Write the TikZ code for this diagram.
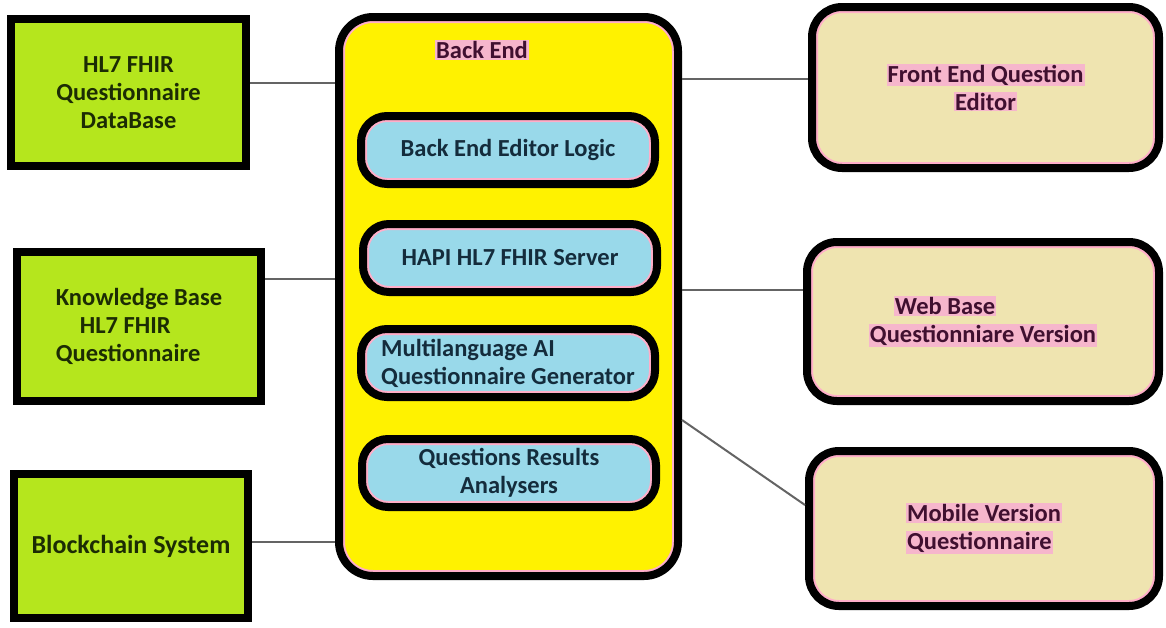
\documentclass[tikz,border=0pt]{standalone}
\usepackage{fontspec}
\setmainfont{Carlito}

\definecolor{limette}{RGB}{181,230,29}
\definecolor{gelb}{RGB}{255,242,0}
\definecolor{hellblau}{RGB}{153,217,234}
\definecolor{sand}{RGB}{239,228,176}
\definecolor{rosa}{RGB}{255,174,201}
\definecolor{linie}{RGB}{100,100,100}
\definecolor{gruentext}{RGB}{28,44,4}
\definecolor{blautext}{RGB}{20,44,60}
\definecolor{lilatext}{RGB}{64,16,48}
\definecolor{halo}{RGB}{246,182,204}

\newcommand{\halo}[1]{{\setlength{\fboxsep}{1pt}\colorbox{halo}{#1}}}

\begin{document}
\begin{tikzpicture} [x = 1pt, y = -1pt,
        schrift/.style = {font = \bfseries\fontsize{24.5}{28}\selectfont},
        rosarand/.style = {path picture = {\draw[rosa, line width = 12pt, rounded corners = #1]
            (path picture bounding box.south west) rectangle (path picture bounding box.north east);}},
        kasten/.style = {schrift, draw = black, line width = 8pt, fill = limette, text = gruentext, align = center},
        kapsel/.style = {schrift, draw = black, line width = 8pt, fill = hellblau, text = blautext, align = center,
            rounded corners = 26pt, rosarand = 26pt, minimum width = 294pt, minimum height = 68pt},
        ziel/.style = {schrift, draw = black, line width = 8pt, fill = sand, text = lilatext, align = left,
            rounded corners = 30pt, rosarand = 30pt},
        verbindung/.style = {linie, line width = 2pt}]
            \useasboundingbox (0, 0) rectangle (1166, 627);

            % Linke Seite: Datenquellen
            \node[kasten, minimum width = 235pt, minimum height = 147pt] (db) at (128.5, 92.5)
                {HL7 FHIR\\Questionnaire\\DataBase};
            \node[kasten, align = left, minimum width = 244pt, minimum height = 149pt] (kb) at (139, 326.5)
                {Knowledge Base\\\hspace*{24pt}HL7 FHIR\\Questionnaire};
            \node[kasten, minimum width = 234pt, minimum height = 144pt,
                font = \bfseries\fontsize{26}{28}\selectfont] (bc) at (131, 546)
                {Blockchain System};

            % Back End mit Komponenten
            \node[draw = black, line width = 8pt, fill = gelb, rounded corners = 34pt, rosarand = 34pt,
                minimum width = 339pt, minimum height = 559pt] (backend) at (508.5, 296.5) {};
            \node[schrift, text = lilatext] (betitel) at (482, 50) {\halo{Back End}};
            \node[kapsel] (logik) at (508, 150) {Back End Editor Logic};
            \node[kapsel] (hapi) at (510, 258) {HAPI HL7 FHIR Server};
            \node[kapsel, align = left] (ki) at (508, 363) {Multilanguage AI\\Questionnaire Generator};
            \node[kapsel] (analyse) at (509, 473) {Questions Results\\Analysers};

            % Rechte Seite: Oberflaechen
            \node[ziel, align = center, minimum width = 347pt, minimum height = 161pt] (editor) at (985.5, 87.5)
                {\halo{Front End Question}\\\halo{Editor}};
            \node[ziel, minimum width = 352pt, minimum height = 159pt] (web) at (983, 321.5)
                {\hspace*{25pt}\halo{Web Base}\\\halo{Questionniare Version}};
            \node[ziel, minimum width = 350pt, minimum height = 155pt] (mobil) at (984, 528.5)
                {\halo{Mobile Version}\\\halo{Questionnaire}};

            % Verbindungen
            \draw[verbindung] ([yshift = 9.5pt]db.east) -- ([yshift = 9.5pt]db.east -| backend.west);
            \draw[verbindung] ([yshift = 47.5pt]kb.east) -- ([yshift = 47.5pt]kb.east -| backend.west);
            \draw[verbindung] ([yshift = 4pt]bc.east) -- ([yshift = 4pt]bc.east -| backend.west);
            \draw[verbindung] ([yshift = 8.5pt]editor.west -| backend.east) -- ([yshift = 8.5pt]editor.west);
            \draw[verbindung] ([yshift = 31.5pt]web.west -| backend.east) -- ([yshift = 31.5pt]web.west);
            \draw[verbindung] ([yshift = -123.5pt]backend.east) -- ([yshift = 23.5pt]mobil.west);
        \end{tikzpicture}
\end{document}
